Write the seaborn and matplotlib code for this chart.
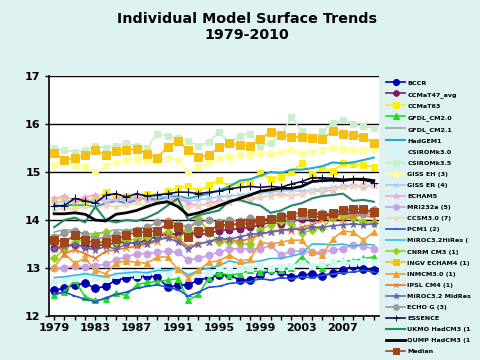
import numpy as np
import pandas as pd
import seaborn as sns
import matplotlib.pyplot as plt

# years on the category axis
years = list(range(1979, 2011))
tick_years = [1979, 1983, 1987, 1991, 1995, 1999, 2003, 2007]

bccr = [12.54, 12.58, 12.65, 12.68, 12.58, 12.62, 12.75, 12.79, 12.81, 12.83, 12.82, 12.6, 12.64, 12.65, 12.75, 12.8,
        12.85, 12.85, 12.75, 12.75, 12.85, 12.96, 12.92, 12.81, 12.85, 12.88, 12.83, 12.9, 12.95, 13.05, 12.98, 12.95]
ccma_t47 = [13.42, 13.45, 13.48, 13.45, 13.45, 13.5, 13.52, 13.55, 13.5, 13.6, 13.65, 13.72, 13.7, 13.75, 13.7, 13.72,
            13.78, 13.8, 13.82, 13.85, 13.9, 13.95, 13.92, 14.0, 14.02, 14.05, 14.08, 14.1, 14.12, 14.15, 14.15, 14.2]
ccma_t63 = [14.42, 14.46, 14.35, 14.4, 14.45, 14.58, 14.45, 14.5, 14.45, 14.55, 14.5, 14.6, 14.67, 14.7, 14.6, 14.72,
            14.83, 14.7, 14.78, 14.8, 14.98, 14.85, 14.9, 15.0, 15.18, 14.95, 15.08, 15.02, 15.18, 15.16, 15.15, 15.1]
gfdl_20 = [12.44, 12.5, 12.75, 12.4, 12.33, 12.35, 12.48, 12.43, 12.65, 12.7, 12.72, 12.75, 12.78, 12.33, 12.45, 12.8,
           12.9, 12.85, 12.88, 12.95, 12.92, 12.95, 12.96, 13.0, 13.23, 13.05, 13.0, 13.12, 13.15, 13.15, 13.2, 13.23]
gfdl_21 = [13.75, 13.8, 13.78, 13.7, 13.72, 13.75, 13.8, 13.78, 13.82, 13.85, 13.82, 13.88, 13.85, 13.75, 13.8, 13.82,
           13.85, 13.88, 13.9, 13.92, 13.95, 13.98, 13.95, 14.0, 14.02, 14.05, 14.05, 14.08, 14.1, 14.1, 14.12, 14.12]
hadgem1 = [14.28, 14.3, 14.32, 14.3, 14.28, 14.35, 14.4, 14.35, 14.42, 14.45, 14.42, 14.48, 14.5, 14.45, 14.5, 14.55,
           14.62, 14.7, 14.82, 14.85, 14.92, 15.0, 14.98, 15.05, 15.05, 15.08, 15.12, 15.2, 15.18, 15.2, 15.25, 15.3]
csiro_30 = [12.7, 12.75, 12.8, 12.85, 12.8, 12.78, 12.85, 12.9, 12.85, 12.92, 12.95, 12.9, 12.95, 12.85, 12.88, 12.9,
            13.0, 12.95, 12.98, 13.0, 13.05, 13.0, 13.02, 13.05, 13.1, 13.05, 13.08, 13.1, 13.12, 13.1, 13.15, 13.12]
csiro_35 = [15.5, 15.45, 15.42, 15.45, 15.55, 15.5, 15.55, 15.6, 15.55, 15.5, 15.8, 15.75, 15.7, 15.65, 15.55, 15.62,
            15.83, 15.6, 15.75, 15.8, 15.55, 15.6, 15.75, 16.15, 15.85, 15.7, 15.85, 16.02, 16.08, 16.0, 15.95, 15.92]
giss_eh = [15.15, 15.22, 15.15, 15.1, 15.0, 15.12, 15.2, 15.25, 15.28, 15.25, 15.22, 15.3, 15.25, 15.0, 15.1, 15.2,
           15.3, 15.32, 15.35, 15.35, 15.4, 15.38, 15.42, 15.45, 15.4, 15.42, 15.45, 15.5, 15.48, 15.45, 15.45, 15.45]
giss_er = [14.35, 14.4, 14.38, 14.42, 14.4, 14.45, 14.42, 14.45, 14.48, 14.45, 14.5, 14.48, 14.45, 14.4, 14.42, 14.45,
           14.48, 14.5, 14.52, 14.55, 14.55, 14.58, 14.6, 14.62, 14.6, 14.62, 14.65, 14.68, 14.7, 14.7, 14.72, 14.72]
echam5 = [14.45, 14.5, 14.4, 14.48, 14.52, 14.35, 14.45, 14.4, 14.45, 14.42, 14.38, 14.4, 14.45, 14.35, 14.3, 14.35,
          14.4, 14.38, 14.45, 14.42, 14.48, 14.5, 14.55, 14.5, 14.55, 14.6, 14.6, 14.62, 14.7, 14.72, 14.68, 14.72]
mri = [13.0, 13.0, 13.04, 13.02, 13.05, 13.08, 13.17, 13.23, 13.3, 13.3, 13.33, 13.35, 13.33, 13.17, 13.2, 13.27,
       13.33, 13.4, 13.4, 13.4, 13.4, 13.47, 13.27, 13.35, 13.35, 13.33, 13.33, 13.37, 13.4, 13.48, 13.45, 13.4]
ccsm3 = [14.2, 14.25, 14.22, 14.28, 14.25, 14.3, 14.28, 14.32, 14.35, 14.3, 14.35, 14.38, 14.35, 14.25, 14.3, 14.32,
         14.35, 14.4, 14.42, 14.45, 14.48, 14.5, 14.52, 14.5, 14.55, 14.6, 14.62, 14.65, 14.68, 14.7, 14.72, 14.7]
pcm1 = [12.45, 12.5, 12.42, 12.35, 12.3, 12.38, 12.45, 12.5, 12.58, 12.62, 12.65, 12.6, 12.55, 12.42, 12.5, 12.6,
        12.62, 12.68, 12.7, 12.72, 12.78, 12.75, 12.8, 12.78, 12.82, 12.8, 12.85, 12.88, 12.9, 12.92, 12.95, 12.92]
miroc_hi = [12.8, 12.82, 12.85, 12.88, 12.85, 12.82, 12.88, 12.9, 12.92, 12.9, 12.95, 12.95, 13.0, 12.85, 12.95, 13.0,
            13.05, 13.15, 13.1, 13.12, 13.15, 13.2, 13.2, 13.25, 13.3, 13.5, 13.5, 13.48, 13.5, 13.45, 13.5, 13.48]
cnrm = [13.2, 13.4, 13.55, 13.6, 13.68, 13.76, 13.55, 13.58, 13.6, 13.65, 13.7, 13.75, 13.6, 13.8, 14.04, 13.75,
        13.55, 13.55, 13.52, 13.5, 13.8, 13.9, 13.97, 13.92, 13.73, 13.8, 13.83, 14.05, 14.1, 14.05, 13.95, 13.93]
ingv = [15.4, 15.25, 15.29, 15.35, 15.46, 15.35, 15.44, 15.46, 15.48, 15.38, 15.3, 15.52, 15.65, 15.46, 15.32, 15.35,
        15.52, 15.6, 15.56, 15.54, 15.69, 15.83, 15.77, 15.73, 15.73, 15.71, 15.69, 15.85, 15.79, 15.77, 15.73, 15.6]
inmcm = [13.02, 13.3, 13.1, 13.2, 12.96, 12.88, 13.1, 13.15, 13.12, 13.1, 13.23, 13.23, 12.97, 12.8, 12.95, 13.12,
         13.15, 13.27, 13.15, 13.18, 13.54, 13.5, 13.54, 13.58, 13.58, 13.33, 13.27, 13.6, 13.77, 13.75, 13.58, 13.75]
ipsl = [13.55, 13.3, 13.38, 13.3, 13.2, 13.35, 13.38, 13.42, 13.45, 13.5, 13.55, 13.68, 13.6, 13.45, 13.5, 13.55,
        13.58, 13.6, 13.55, 13.62, 13.7, 13.75, 13.8, 13.78, 13.85, 13.9, 14.0, 14.05, 14.0, 14.08, 14.1, 14.05]
miroc_mid = [13.4, 13.45, 13.5, 13.42, 13.38, 13.45, 13.4, 13.5, 13.55, 13.5, 13.6, 13.62, 13.55, 13.4, 13.5, 13.55,
             13.62, 13.6, 13.65, 13.7, 13.72, 13.75, 13.78, 13.82, 13.8, 13.85, 13.85, 13.88, 13.9, 13.92, 13.9, 13.92]
echo_g = [13.65, 13.72, 13.78, 13.7, 13.6, 13.65, 13.7, 13.75, 13.8, 13.85, 13.95, 13.97, 13.92, 13.85, 13.95, 14.0,
          13.95, 14.0, 13.98, 14.05, 14.0, 14.05, 14.1, 14.05, 14.1, 14.1, 14.15, 14.12, 14.18, 14.2, 14.15, 14.2]
essence = [14.3, 14.3, 14.45, 14.4, 14.35, 14.52, 14.55, 14.48, 14.55, 14.5, 14.52, 14.55, 14.58, 14.58, 14.55, 14.58,
           14.6, 14.65, 14.68, 14.7, 14.68, 14.7, 14.68, 14.75, 14.8, 14.88, 14.88, 14.87, 14.85, 14.85, 14.83, 14.78]
ukmo = [13.85, 14.0, 14.05, 13.95, 14.28, 14.0, 13.95, 14.0, 13.98, 14.05, 14.15, 14.3, 14.45, 14.0, 14.1, 14.15,
        14.2, 14.4, 14.42, 14.35, 14.3, 14.15, 14.2, 14.3, 14.35, 14.45, 14.5, 14.52, 14.55, 14.4, 14.42, 14.38]
qump = [14.13, 14.13, 14.15, 14.12, 14.0, 13.98, 14.12, 14.15, 14.2, 14.28, 14.35, 14.38, 14.28, 14.1, 14.15, 14.22,
        14.3, 14.38, 14.45, 14.52, 14.6, 14.63, 14.66, 14.66, 14.7, 14.8, 14.82, 14.83, 14.82, 14.85, 14.85, 14.82]
median = [13.58, 13.55, 13.68, 13.58, 13.52, 13.55, 13.6, 13.68, 13.75, 13.75, 13.78, 13.92, 13.85, 13.65, 13.78, 13.78,
          13.9, 13.9, 13.93, 13.93, 14.0, 14.02, 14.06, 14.1, 14.17, 14.15, 14.1, 14.15, 14.2, 14.23, 14.23, 14.17]

# (label, values, colour, marker, markersize, linewidth)
series = [
    ("BCCR", bccr, "#0000B0", "o", 5.5, 1.2),
    ("CCMaT47_avg", ccma_t47, "#7A1E5C", "o", 5, 1.2),
    ("CCMaT63", ccma_t63, "#FFEE00", "s", 5, 1.2),
    ("GFDL_CM2.0", gfdl_20, "#22DD22", "^", 5, 1.2),
    ("GFDL_CM2.1", gfdl_21, "#9AAA9A", None, 0, 1.2),
    ("HadGEM1", hadgem1, "#22AACC", None, 0, 1.5),
    ("CSIROMk3.0", csiro_30, "#CFF6F8", "s", 5, 1.2),
    ("CSIROMk3.5", csiro_35, "#CAEFCA", "s", 5, 1.2),
    ("GISS EH (3)", giss_eh, "#FFFF99", "s", 4, 1.2),
    ("GISS ER (4)", giss_er, "#A8C8F0", "x", 4, 1.2),
    ("ECHAM5", echam5, "#F0A8D8", "*", 5, 1.2),
    ("MRI232a (5)", mri, "#C8A0E8", "o", 5, 1.2),
    ("CCSM3.0 (7)", ccsm3, "#F0D8B8", "*", 4, 1.2),
    ("PCM1 (2)", pcm1, "#2255CC", "_", 4, 1.2),
    ("MIROC3.2HiRes (", miroc_hi, "#33BBDD", None, 0, 1.2),
    ("CNRM CM3 (1)", cnrm, "#99CC22", "D", 4, 1.2),
    ("INGV ECHAM4 (1)", ingv, "#F5C010", "s", 5.5, 1.2),
    ("INMCM3.0 (1)", inmcm, "#F0A030", "^", 5, 1.2),
    ("IPSL CM4 (1)", ipsl, "#EE7722", "x", 4, 1.2),
    ("MIROC3.2 MidRes", miroc_mid, "#6666AA", "*", 5, 1.2),
    ("ECHO G (3)", echo_g, "#999999", "o", 5, 1.2),
    ("ESSENCE", essence, "#101040", "+", 6, 1.2),
    ("UKMO HadCM3 (1", ukmo, "#228866", None, 0, 1.5),
    ("QUMP HadCM3 (1", qump, "#000000", None, 0, 2.0),
    ("Median", median, "#A0441A", "s", 5.5, 1.2),
]

bg = "#DEF2F2"
fig = plt.figure(figsize=(4.8, 3.6), dpi=100, facecolor=bg)
ax = fig.add_axes([0.102, 0.122, 0.6875, 0.667])
ax.set_facecolor("white")

for label, vals, color, marker, ms, lw in series:
    sns.lineplot(x=years, y=vals, ax=ax, color=color, marker=marker, markersize=ms,
                 markeredgecolor=color, linewidth=lw, label=label, legend=False)

ax.set_xlim(1978.5, 2010.5)
ax.set_ylim(12, 17)
ax.set_yticks([12, 13, 14, 15, 16, 17])
ax.set_yticklabels(["12", "13", "14", "15", "16", "17"], fontweight="bold", fontsize=8)
ax.set_xticks(years)
ax.set_xticklabels([str(y) if y in tick_years else "" for y in years], fontweight="bold", fontsize=8)
ax.tick_params(axis="x", length=3, width=1, color="black", pad=2)
ax.tick_params(axis="y", length=3, width=1, color="black", pad=3)
ax.yaxis.grid(True, color="black", linewidth=1)
ax.set_axisbelow(True)
for side in ["top", "right"]:
    ax.spines[side].set_visible(False)
for side in ["left", "bottom"]:
    ax.spines[side].set_color("black")
    ax.spines[side].set_linewidth(1.2)
ax.set_xlabel("")
ax.set_ylabel("")

fig.text(0.515, 0.968, "Individual Model Surface Trends\n1979-2010", ha="center", va="top",
         fontsize=10.3, fontweight="bold", linespacing=1.25)

handles, labels = ax.get_legend_handles_labels()
fig.legend(handles, labels, loc="upper left", bbox_to_anchor=(0.795, 0.79), frameon=False,
           prop={"size": 4.6, "weight": "bold"}, handlelength=3.0, handletextpad=0.3,
           labelspacing=0.88, borderpad=0.2, markerscale=0.8)

fig.savefig("out.png", dpi=100, facecolor=bg)
